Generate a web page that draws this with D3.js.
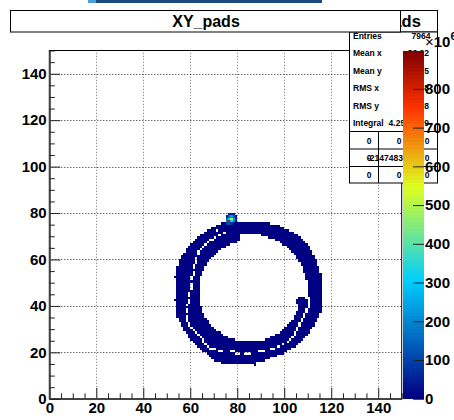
<!DOCTYPE html>
<html><head><meta charset="utf-8">
<script src="https://cdn.jsdelivr.net/npm/d3@7"></script>
<style>
body{margin:0;background:#fff;}
svg{display:block;font-family:"Liberation Sans",Arial,Helvetica,sans-serif;}
</style></head><body>
<svg id="c" width="454" height="420"></svg>
<script>
// ---------- data ----------
const xTicks = [0,20,40,60,80,100,120,140];
const yTicks = [0,20,40,60,80,100,120,140];
const minorTicks = [5,10,15,25,30,35,45,50,55,65,70,75,85,90,95,105,110,115,125,130,135,145,150];
const zTicks = [0,100,200,300,400,500,600,700,800];
const zMax = 899;            // x10^6
const ringValue = 3;         // x10^6, low-count bins of the ring
// each row: [ybin, x0, x1, x0, x1, ...] inclusive bin ranges of filled cells
const ringRows = [
[14,87,87],
[15,73,87],
[16,70,91],
[17,69,93],
[18,68,96],
[19,67,78,81,82,86,99],
[20,65,71,74,76,79,88,92,100],
[21,64,67,71,93,96,102],
[22,63,66,68,96,98,104],
[23,62,65,67,98,100,105],
[24,61,64,66,100,102,106],
[25,60,64,66,78,92,101,103,107],
[26,59,63,65,75,94,102,104,108],
[27,59,62,64,73,96,103,105,109],
[28,58,61,63,72,98,103,105,110],
[29,57,60,62,70,99,104,106,110],
[30,57,59,61,69,100,104,106,111],
[31,56,58,60,68,101,105,107,112],
[32,56,58,60,67,102,105,107,112],
[33,55,57,59,67,103,106,108,113],
[34,55,57,59,66,104,106,108,113],
[35,54,57,59,65,104,107,109,114],
[36,54,65,105,107,109,114],
[37,54,57,59,64,105,108,110,115],
[38,54,57,59,64,106,108,110,115],
[39,54,64,106,109,111,115],
[40,54,57,59,63,106,109,111,115],
[41,54,58,60,63,105,109,111,115],
[42,53,58,60,63,105,109,111,115],
[43,54,63,106,108,111,115],
[44,54,58,60,63,110,115],
[45,54,58,60,63,110,115],
[46,54,63,110,115],
[47,54,59,61,63,110,115],
[48,54,59,61,63,110,115],
[49,54,59,61,63,110,115],
[50,54,63,110,115],
[51,54,59,61,63,109,115],
[52,53,59,61,63,109,115],
[53,54,60,62,64,109,115],
[54,54,60,62,64,108,114],
[55,54,65,108,114],
[56,54,60,62,65,108,114],
[57,55,60,62,66,107,113],
[58,55,61,63,66,107,113],
[59,55,61,63,67,106,113],
[60,56,61,63,68,105,112],
[61,56,69,105,112],
[62,57,62,64,70,104,111],
[63,58,62,64,71,103,111],
[64,58,63,65,72,102,110],
[65,59,64,66,74,101,110],
[66,60,65,67,76,99,109],
[67,61,66,68,79,98,108],
[68,62,67,70,80,96,107],
[69,63,69,71,80,93,106],
[70,64,71,73,80,90,105],
[71,66,73,75,103],
[72,67,70,72,101],
[73,69,99],
[74,71,97],
[75,73,93],
[76,75,79],
[77,75,79],
[78,75,79],
[79,76,78]
];
// hot cells: [xbin, ybin, value x10^6]
const hotCells = [
[75,75,90],[76,75,120],[77,75,80],
[75,76,180],[76,76,850],[77,76,330],[78,76,200],[79,76,40],
[75,77,150],[76,77,300],[77,77,480],[78,77,250],[79,77,60],
[75,78,60],[76,78,160],[77,78,230],[78,78,120],[79,78,30],
[76,79,50],[77,79,60],[78,79,40]
];
const titleText = "XY_pads";
const statLabels = ["Entries","Mean x","Mean y","RMS x","RMS y","Integral"];
const statValues = ["7964","83.22","45.75","18.58","18.08","4.259e+09"];
const tableRows = [["0","0","0"],["0","-2147483648","0"],["0","0","0"]];

// ---------- layout ----------
const svg = d3.select("#c");
const X0 = 49.3, X1 = 401.7, Y0 = 398.8, Y1 = 50.5;
const xS = d3.scaleLinear().domain([0,150]).range([X0,X1]);
const yS = d3.scaleLinear().domain([0,150]).range([Y0,Y1]);
const zS = d3.scaleLinear().domain([0,zMax]).range([Y0,Y1]);
const stops = [0,0.34,0.61,0.84,1].map(t=>t*zMax);
const grad = d3.scaleLinear().domain(stops)
  .range(["#000082","#00cfff","#deff1f","#ff3300","#820000"]).clamp(true);
const nCol = 100;
const colorOf = v => grad(Math.min(nCol-1, Math.floor(v/zMax*nCol)) * zMax/(nCol-1));

// top strip (window chrome)
svg.append("rect").attr("x",88).attr("y",0).attr("width",8).attr("height",3).attr("fill","#4a9fd8");
svg.append("rect").attr("x",96).attr("y",0).attr("width",226).attr("height",3).attr("fill","#1b4b80");

// grid
const g = svg.append("g");
g.selectAll(".gx").data(xTicks.filter(d=>d>0)).join("line")
  .attr("x1",d=>Math.round(xS(d))+0.5).attr("x2",d=>Math.round(xS(d))+0.5)
  .attr("y1",Y0).attr("y2",Y1).attr("stroke","#777").attr("stroke-dasharray","1,2");
g.selectAll(".gy").data(yTicks.filter(d=>d>0)).join("line")
  .attr("y1",d=>Math.round(yS(d))+0.5).attr("y2",d=>Math.round(yS(d))+0.5)
  .attr("x1",X0).attr("x2",X1).attr("stroke","#222").attr("stroke-dasharray","1,2");

// cells
const segs = [];
ringRows.forEach(r=>{ for(let k=1;k<r.length;k+=2) segs.push({y:r[0],a:r[k],b:r[k+1],v:ringValue}); });
const cells = svg.append("g").attr("shape-rendering","crispEdges");
cells.selectAll(".s").data(segs).join("rect")
  .attr("x",d=>xS(d.a)).attr("width",d=>xS(d.b+1)-xS(d.a))
  .attr("y",d=>yS(d.y+1)).attr("height",d=>yS(d.y)-yS(d.y+1))
  .attr("fill",d=>colorOf(d.v));
cells.selectAll(".h").data(hotCells).join("rect")
  .attr("x",d=>xS(d[0])).attr("width",d=>xS(d[0]+1)-xS(d[0]))
  .attr("y",d=>yS(d[1]+1)).attr("height",d=>yS(d[1])-yS(d[1]+1))
  .attr("fill",d=>colorOf(d[2]));

// frame
svg.append("rect").attr("x",X0).attr("y",Y1).attr("width",X1-X0).attr("height",Y0-Y1)
  .attr("fill","none").attr("stroke","#000").attr("stroke-width",1);

// axes
const fontAx = "bold 15px 'Liberation Sans', Arial, sans-serif";
svg.append("g").attr("transform",`translate(0,${Y0})`)
  .call(d3.axisBottom(xS).tickValues(xTicks).tickSizeInner(-11).tickSizeOuter(0).tickPadding(4).tickFormat(d3.format("d")));
svg.append("g").attr("transform",`translate(0,${Y0})`)
  .call(d3.axisBottom(xS).tickValues(minorTicks).tickSizeInner(-5.5).tickSizeOuter(0).tickFormat(""));
svg.append("g").attr("transform",`translate(${X0},0)`)
  .call(d3.axisLeft(yS).tickValues(yTicks).tickSizeInner(-11).tickSizeOuter(0).tickPadding(2.6).tickFormat(d3.format("d")));
svg.append("g").attr("transform",`translate(${X0},0)`)
  .call(d3.axisLeft(yS).tickValues(minorTicks).tickSizeInner(-5.5).tickSizeOuter(0).tickFormat(""));
svg.selectAll(".domain").attr("stroke","#444").attr("stroke-width",1.6);
svg.selectAll(".tick line").attr("stroke","#222");
svg.selectAll(".tick text").style("font",fontAx).attr("fill","#000");

// stats box
const SX0 = 349.5, SX1 = 437.5;
svg.append("rect").attr("x",SX0).attr("y",10.5).attr("width",SX1-SX0).attr("height",21.5)
  .attr("fill","#fff").attr("stroke","#000");
svg.append("text").attr("x",386).attr("y",27).attr("text-anchor","middle")
  .style("font","bold 16.5px 'Liberation Sans', Arial, sans-serif").text(titleText);
svg.append("rect").attr("x",SX0).attr("y",32).attr("width",SX1-SX0).attr("height",151)
  .attr("fill","#fff").attr("stroke","#000");
const rowY = [35.5,53,70.5,88,105.5,123];
const stFont = "bold 8.5px 'Liberation Sans', Arial, sans-serif";
svg.selectAll(".sl").data(statLabels).join("text").attr("x",353).attr("y",(d,i)=>rowY[i]+3)
  .style("font",stFont).text(d=>d);
svg.selectAll(".sv").data(statValues).join("text").attr("x",(d,i)=>i===0?430.5:429).attr("y",(d,i)=>rowY[i]+3)
  .attr("text-anchor","end").style("font",stFont).text(d=>d);
[131.5,149,166.5].forEach(yy=>svg.append("line").attr("x1",SX0).attr("x2",SX1).attr("y1",yy).attr("y2",yy).attr("stroke","#000"));
[378.5,407.5].forEach(xx=>svg.append("line").attr("x1",xx).attr("x2",xx).attr("y1",131.5).attr("y2",183).attr("stroke","#000"));
const tY = [140.5,158,175], tX = [369,399,427];
tableRows.forEach((r,i)=>r.forEach((t,j)=>{
  svg.append("text").attr("x", j===1 && t.length>1 ? 392 : tX[j]).attr("y",tY[i]+3)
    .attr("text-anchor","middle").style("font",stFont).text(t);
}));

// palette
const PX0 = 403, PX1 = 424;
const pal = svg.append("g").attr("shape-rendering","crispEdges");
const bands = d3.range(nCol);
pal.selectAll("rect").data(bands).join("rect")
  .attr("x",PX0).attr("width",PX1-PX0)
  .attr("y",d=>zS((d+1)*zMax/nCol)).attr("height",d=>zS(d*zMax/nCol)-zS((d+1)*zMax/nCol)+0.5)
  .attr("fill",d=>grad(d*zMax/(nCol-1)));
const az = svg.append("g").attr("transform",`translate(${PX1},0)`)
  .call(d3.axisRight(zS).tickValues(zTicks).tickSizeInner(-11).tickSizeOuter(0).tickPadding(1).tickFormat(d3.format("d")));
az.select(".domain").remove();
az.selectAll(".tick line").attr("stroke","#222");
az.selectAll(".tick text").style("font",fontAx).attr("fill","#000");
const ex = svg.append("text").attr("x",425).attr("y",47).style("font",fontAx);
ex.append("tspan").style("font-weight","normal").text("\u00d7");
ex.append("tspan").text("10");
ex.append("tspan").attr("dy",-7).style("font-size","11px").text("6");

// title
svg.append("rect").attr("x",10.5).attr("y",10.5).attr("width",390).attr("height",21.5)
  .attr("fill","#fff").attr("stroke","#000");
svg.append("text").attr("x",206).attr("y",27).attr("text-anchor","middle")
  .style("font","bold 16px 'Liberation Sans', Arial, sans-serif").text(titleText);
</script>
</body></html>
